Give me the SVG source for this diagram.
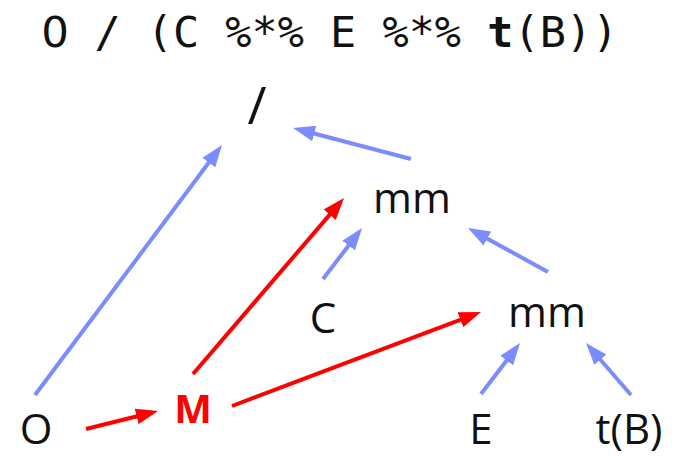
<svg xmlns="http://www.w3.org/2000/svg" width="677" height="456" viewBox="0 0 677 456">
<style>
.lbl{font-family:"Open Sans","Liberation Sans",sans-serif;font-size:42px;fill:#111;text-anchor:middle}
.title{font-family:"DejaVu Sans Mono","Liberation Mono",monospace;font-size:43.5px;fill:#111}
.b{stroke:#7b8cff;stroke-width:4;fill:none;marker-end:url(#ab)}
.r{stroke:#ff0000;stroke-width:4;fill:none;marker-end:url(#ar)}
</style>
<defs>
<marker id="ab" markerUnits="userSpaceOnUse" markerWidth="22" markerHeight="16" viewBox="0 0 22 16" refX="16" refY="8" orient="auto"><path d="M0,0 L22,8 L0,16 z" fill="#7b8cff"/></marker>
<marker id="ar" markerUnits="userSpaceOnUse" markerWidth="22" markerHeight="16" viewBox="0 0 22 16" refX="16" refY="8" orient="auto"><path d="M0,0 L22,8 L0,16 z" fill="#ff0000"/></marker>
</defs>
<rect width="677" height="456" fill="#fff"/>
<g id="title">
<text class="title" x="55" y="47" text-anchor="middle" style="font-family:'DejaVu Sans',sans-serif">0</text>
<text class="title" x="94.4" y="47" xml:space="preserve">/ (C %*% E %*% <tspan font-weight="bold">t</tspan>(B))</text>
</g>
<g id="connectors">
<line class="b" x1="35" y1="395" x2="218.4" y2="149.8"/>
<line class="b" x1="411" y1="159" x2="298.8" y2="129.5"/>
<line class="r" x1="193" y1="374" x2="340.1" y2="202.6"/>
<line class="b" x1="323" y1="279" x2="358.4" y2="232.8"/>
<line class="b" x1="548" y1="272" x2="473.3" y2="230.9"/>
<line class="r" x1="86" y1="429" x2="152.2" y2="412.5"/>
<line class="r" x1="232" y1="406" x2="475.4" y2="314.1"/>
<line class="b" x1="481" y1="394" x2="516.4" y2="347.8"/>
<line class="b" x1="631" y1="395" x2="589.9" y2="347.5"/>
</g>
<g id="div"><text class="lbl" x="257" y="124" style="font-size:52px">/</text></g>
<g id="mm1"><text class="lbl" x="412" y="213">mm</text></g>
<g id="C"><text class="lbl" x="323" y="333">C</text></g>
<g id="mm2"><text class="lbl" x="547" y="327">mm</text></g>
<g id="O"><text class="lbl" x="36" y="444">O</text></g>
<g id="M"><text class="lbl" x="193" y="423" style="font-weight:bold;font-size:40px;fill:#ff0000">M</text></g>
<g id="E"><text class="lbl" x="481" y="444">E</text></g>
<g id="tB"><text class="lbl" x="629" y="444">t(B)</text></g>
</svg>
